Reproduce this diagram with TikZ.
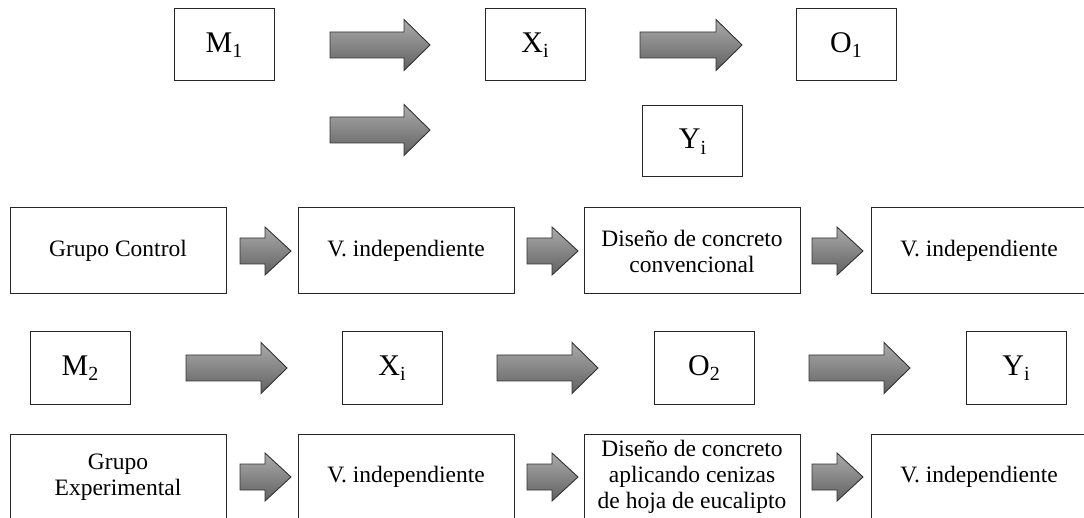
\documentclass[tikz,border=0pt]{standalone}
\usepackage{fontspec}
\setmainfont{Liberation Serif}
\tikzset{
 bigbox/.style={draw=black!85, line width=1pt, minimum width=100pt, minimum height=72pt, inner sep=0pt, font=\fontsize{30}{32}\selectfont},
 wbox/.style={draw=black!85, line width=1pt, minimum width=216pt, minimum height=86pt, inner sep=0pt, align=center, font=\fontsize{23.5}{26}\selectfont},
 blockarr/.style={draw=black!80, line width=0.9pt, top color=black!33, bottom color=black!62, line join=miter}
}
\newcommand\Sub[1]{\raisebox{-0.4ex}{\fontsize{20}{20}\selectfont #1}}
% x1, x2, y, head half height
\newcommand\BArrow[4]{%
 \path[blockarr] (#1,#3-13) -- (#2-26,#3-13) -- (#2-26,#3-#4) -- (#2,#3) -- (#2-26,#3+#4) -- (#2-26,#3+13) -- (#1,#3+13) -- cycle;}
\begin{document}
\begin{tikzpicture}[x=1pt,y=-1pt]
\useasboundingbox (0,0) rectangle (1084,518);
% row 1
\node[bigbox] (m1) at (224,45) {M\Sub{1}};
\node[bigbox] (x1) at (535,45) {X\Sub{i}};
\node[bigbox] (o1) at (846,45) {O\Sub{1}};
\BArrow{330}{430}{45}{25.5}
\BArrow{640}{742}{45}{25.5}
% row 2
\BArrow{330}{430}{130}{25.5}
\node[bigbox, minimum height=71pt] (y1) at (692.5,141.5) {Y\Sub{i}};
% row 3
\node[wbox] (gc) at (118,251) {Grupo Control};
\node[wbox] (vi1) at (406,251) {V. independiente};
\node[wbox] (dc) at (692,251) {Diseño de concreto\\convencional};
\node[wbox] (vd1) at (979,251) {V. independiente};
\BArrow{240}{291}{251}{24}
\BArrow{527}{578}{251}{24}
\BArrow{812}{863}{251}{24}
% row 4
\node[bigbox] (m2) at (80,368) {M\Sub{2}};
\node[bigbox] (x2) at (392,368) {X\Sub{i}};
\node[bigbox] (o2) at (704,368) {O\Sub{2}};
\node[bigbox] (y2) at (1016,368) {Y\Sub{i}};
\BArrow{186}{287}{368}{25.5}
\BArrow{497}{598}{368}{25.5}
\BArrow{809}{910}{368}{25.5}
% row 5
\node[wbox] (ge) at (118,477) {Grupo\\Experimental};
\node[wbox] (vi2) at (406,477) {V. independiente};
\node[wbox] (de) at (692,477) {Diseño de concreto\\aplicando cenizas\\de hoja de eucalipto};
\node[wbox] (vd2) at (979,477) {V. independiente};
\BArrow{240}{291}{477}{24}
\BArrow{527}{578}{477}{24}
\BArrow{812}{863}{477}{24}
\end{tikzpicture}
\end{document}
